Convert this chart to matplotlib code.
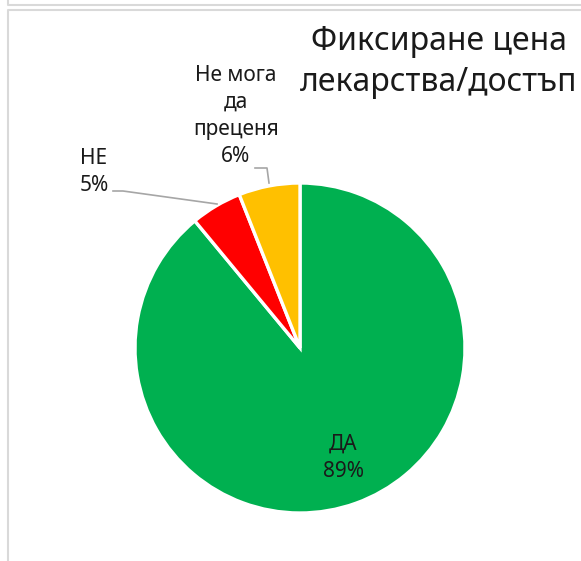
import matplotlib.pyplot as plt

plt.rcParams['font.family'] = ['Noto Sans', 'DejaVu Sans']

labels = ['ДА', 'НЕ', 'Не мога\nда\nпреценя']
shares = [89, 5, 6]
colors = ['#00B050', '#FF0000', '#FFC000']
title = 'Фиксиране цена\nлекарства/достъп'

W, H = 581, 561
fig = plt.figure(figsize=(W / 100, H / 100), dpi=100)
ax = fig.add_axes([0, 0, 1, 1])
ax.set_xlim(0, W)
ax.set_ylim(0, H)
ax.set_aspect('equal')
ax.axis('off')


def py(y):
    # pixel rows count from the top
    return H - y


# chart borders (bottom of the chart above, frame of this one)
border = '#D9D9D9'
ax.plot([8, 8, W], [py(0), py(5), py(5)], color=border, lw=1.5)
ax.plot([8, 8, W], [py(H), py(10), py(10)], color=border, lw=1.5)

cx, cy, r = 300, 348, 165
wedges, _ = ax.pie(shares, colors=colors, startangle=90, counterclock=False,
                   center=(cx, py(cy)), radius=r,
                   wedgeprops=dict(edgecolor='white', linewidth=2.4))
ax.set_xlim(0, W)
ax.set_ylim(0, H)

fs = 15
ls = 1.38
pct = [f'{v}%' for v in shares]
ax.text(343, py(458), f'{labels[0]}\n{pct[0]}', ha='center', va='center',
        fontsize=fs, color='#1a1a1a', linespacing=ls)
ax.text(94, py(172), f'{labels[1]}\n{pct[1]}', ha='center', va='center',
        fontsize=fs, color='#1a1a1a', linespacing=ls)
ax.text(236, py(116), f'{labels[2]}\n{pct[2]}', ha='center', va='center',
        fontsize=fs, color='#1a1a1a', linespacing=ls)

# leader lines
lead = '#A6A6A6'
ax.plot([113, 123, 217], [py(191), py(191), py(204)], color=lead, lw=1.2)
ax.plot([255, 267, 269], [py(168), py(168), py(183)], color=lead, lw=1.2)

ax.text(439, py(62), title, ha='center', va='center', fontsize=23,
        color='#1a1a1a', linespacing=1.3)

fig.savefig('out.png', dpi=100)
